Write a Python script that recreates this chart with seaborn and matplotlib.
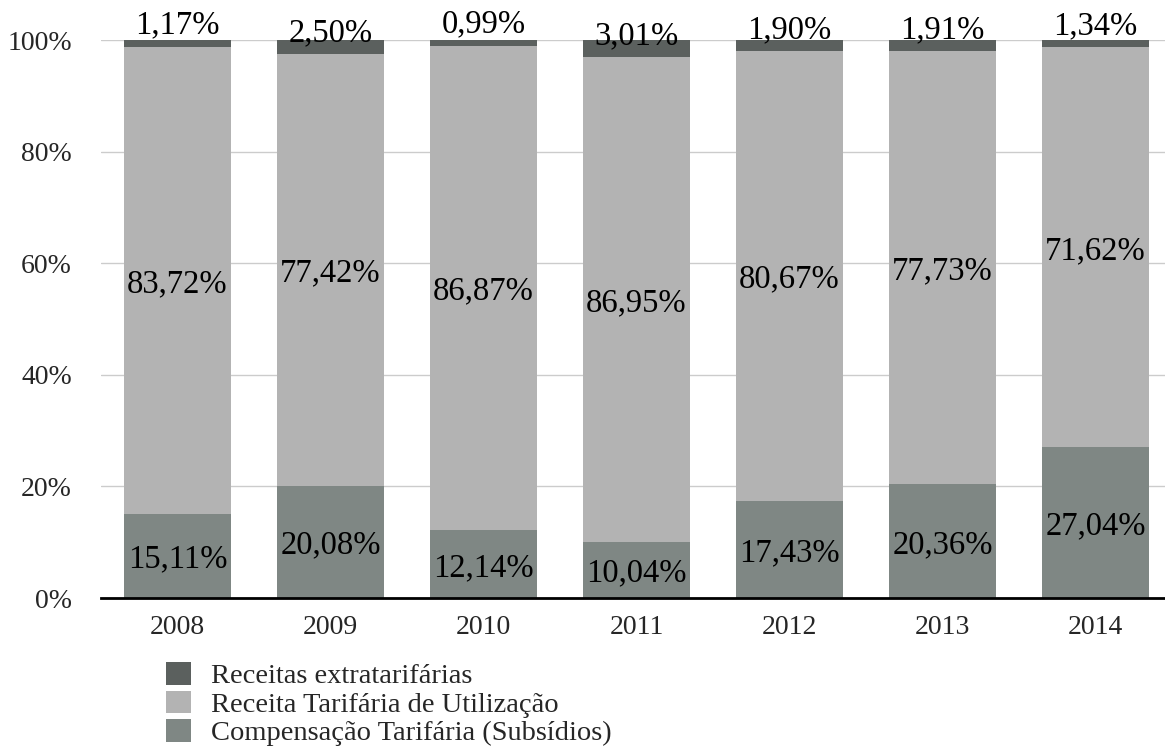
import matplotlib
matplotlib.use("Agg")
import matplotlib.pyplot as plt
import seaborn as sns
import pandas as pd
from matplotlib.patches import Patch

years = ["2008", "2009", "2010", "2011", "2012", "2013", "2014"]
subsidios = [15.11, 20.08, 12.14, 10.04, 17.43, 20.36, 27.04]
tarifaria = [83.72, 77.42, 86.87, 86.95, 80.67, 77.73, 71.62]
extra = [1.17, 2.50, 0.99, 3.01, 1.90, 1.91, 1.34]
series_names = ["Receitas extratarifárias",
                "Receita Tarifária de Utilização",
                "Compensação Tarifária (Subsídios)"]
y_ticks = [0, 20, 40, 60, 80, 100]

c_extra = "#5b605e"
c_tarif = "#b3b3b3"
c_subs = "#7f8784"

sns.set_theme(style="white")
plt.rcParams["font.family"] = ["Liberation Serif", "DejaVu Serif"]

df = pd.DataFrame({"ano": years, "subs": subsidios, "tarif": tarifaria, "extra": extra})
df["cum2"] = df["subs"] + df["tarif"]
df["cum3"] = df["cum2"] + df["extra"]

fig = plt.figure(figsize=(11.65, 7.46), dpi=100)
ax = fig.add_axes([101 / 1165, 1 - 598 / 746, 1071 / 1165, 558 / 746])

# cumulative overlays give the stacked look
for col, color in [("cum3", c_extra), ("cum2", c_tarif), ("subs", c_subs)]:
    sns.barplot(data=df, x="ano", y=col, color=color, width=0.70,
                saturation=1, ax=ax, linewidth=0, edgecolor="none")

ax.set_ylim(0, 100)
ax.set_xlim(-0.5, len(years) - 0.5)
ax.set_yticks(y_ticks)
ax.set_yticklabels([f"{t}%" for t in y_ticks], fontsize=20)
ax.tick_params(axis="y", length=0, pad=21)
ax.tick_params(axis="x", length=0, pad=12, labelsize=20)
ax.set_xlabel("")
ax.set_ylabel("")
ax.grid(axis="y", color="#cccccc", linewidth=1)
ax.set_axisbelow(True)
for s in ["left", "right", "top"]:
    ax.spines[s].set_visible(False)
ax.spines["bottom"].set_color("black")
ax.spines["bottom"].set_linewidth(2)
ax.spines["bottom"].set_zorder(5)


def fmt(v):
    return f"{v:.2f}%".replace(".", ",")


lab_size = 23.5
for i in range(len(years)):
    s, t, e = subsidios[i], tarifaria[i], extra[i]
    ax.text(i, s / 2, fmt(s), ha="center", va="center_baseline",
            fontsize=lab_size, color="black")
    ax.text(i, s + t / 2, fmt(t), ha="center", va="center_baseline",
            fontsize=lab_size, color="black")
    ax.text(i, s + t + 4.4, fmt(e), ha="center", va="center_baseline",
            fontsize=lab_size, color="black", clip_on=False)

handles = [Patch(facecolor=c, edgecolor="none") for c in (c_extra, c_tarif, c_subs)]
leg = fig.legend(handles, series_names, loc="upper left",
                 bbox_to_anchor=(166 / 1165, 1 - 662 / 746),
                 frameon=False, fontsize=20.5, handlelength=0.88, handleheight=0.85,
                 handletextpad=0.7, labelspacing=0.05, borderaxespad=0, borderpad=0)

fig.savefig("out.png", dpi=100)
